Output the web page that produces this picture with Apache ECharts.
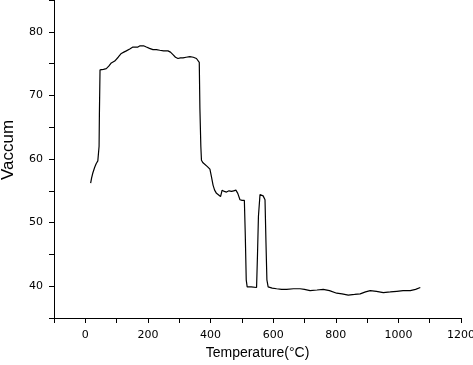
<!DOCTYPE html>
<html>
<head>
<meta charset="utf-8">
<script src="https://cdn.jsdelivr.net/npm/echarts@6/dist/echarts.min.js"></script>
<style>
  html, body { margin: 0; padding: 0; background: #fff; }
  #chart { width: 473px; height: 365px; }
</style>
</head>
<body>
<div id="chart"></div>
<script>
// temperature (°C)
var temperature = [17, 20, 24, 30, 35, 40, 43, 44, 45, 47, 50, 58, 67, 75, 83, 94, 105, 115, 123, 131,
  142, 152, 160, 168, 175, 179, 186, 195, 205, 216, 227, 238, 250, 264, 272, 280, 288, 296, 304, 312,
  322, 334, 345, 355, 360, 364, 366, 369, 371, 376, 382, 390, 398, 403, 408, 413, 419, 425, 432, 437,
  444, 451, 459, 467, 474, 481, 487, 494, 501, 508, 511, 514, 517, 530, 547, 550, 553, 558, 563, 568,
  574, 577, 580, 584, 597, 611, 627, 643, 665, 686, 700, 718, 740, 760, 780, 803, 820, 840, 860, 878,
  895, 910, 930, 952, 974, 995, 1015, 1038, 1055, 1070];
// vacuum reading at each temperature
var vacuum = [56.2, 57.0, 57.8, 58.7, 59.3, 59.7, 59.9, 62, 67, 74.0, 74.0, 74.1, 74.2, 74.6, 75.1, 75.4, 76.0, 76.6, 76.8, 77.0,
  77.3, 77.6, 77.6, 77.6, 77.8, 78.0, 77.8, 77.6, 77.4, 77.2, 77.2, 77.1, 77.0, 77.0, 76.8, 76.4, 76.0, 75.8, 75.9, 75.9,
  76.0, 76.1, 76.0, 75.8, 75.6, 75.2, 68, 62, 59.8, 59.4, 59.1, 58.8, 58.4, 57.2, 55.9, 55.1, 54.6, 54.4, 54.1, 55.1,
  54.9, 54.8, 55.0, 54.9, 55.0, 55.1, 54.6, 53.6, 53.5, 53.5, 48, 41, 39.9, 39.9, 39.8, 45, 51, 54.4, 54.4, 54.2,
  53.6, 47, 41, 39.9, 39.7, 39.6, 39.5, 39.5, 39.6, 39.6, 39.5, 39.3, 39.4, 39.5, 39.3, 38.9, 38.8, 38.6, 38.7, 38.8,
  39.1, 39.3, 39.2, 39.0, 39.1, 39.2, 39.3, 39.3, 39.5, 39.8];

var points = [];
for (var i = 0; i < temperature.length; i++) {
  points.push([temperature[i], vacuum[i]]);
}

var myChart = echarts.init(document.getElementById('chart'));
var option = {
  animation: false,
  grid: { left: 54, right: 12, top: 0, bottom: 47, containLabel: false, outerBoundsMode: 'none' },
  xAxis: {
    type: 'value',
    min: -100,
    max: 1200,
    interval: 100,
    name: 'Temperature(°C)',
    nameLocation: 'middle',
    nameGap: 27,
    nameTextStyle: { fontFamily: 'Liberation Sans', fontSize: 14, color: '#000' },
    axisLine: { onZero: false, lineStyle: { color: '#000', width: 1 } },
    axisTick: { inside: false, length: 5, lineStyle: { color: '#000' } },
    axisLabel: {
      margin: 12,
      fontFamily: 'DejaVu Sans',
      fontSize: 11,
      color: '#000',
      formatter: function (v) { return v % 200 === 0 ? v : ''; }
    },
    splitLine: { show: false }
  },
  yAxis: {
    type: 'value',
    min: 35,
    max: 85,
    interval: 5,
    name: 'Vaccum',
    nameLocation: 'middle',
    nameGap: 37,
    nameTextStyle: { fontFamily: 'Liberation Sans', fontSize: 17, color: '#000', padding: [0, 0, 0, 18] },
    axisLine: { onZero: false, lineStyle: { color: '#000', width: 1 } },
    axisTick: { inside: false, length: 5, lineStyle: { color: '#000' } },
    axisLabel: {
      margin: 11,
      fontFamily: 'DejaVu Sans',
      fontSize: 11,
      color: '#000',
      formatter: function (v) { return (v % 10 === 0 && v < 85) ? v : ''; }
    },
    splitLine: { show: false }
  },
  series: [{
    type: 'line',
    data: points,
    symbol: 'none',
    lineStyle: { color: '#000', width: 1.2 }
  }]
};
myChart.setOption(option);
</script>
</body>
</html>
